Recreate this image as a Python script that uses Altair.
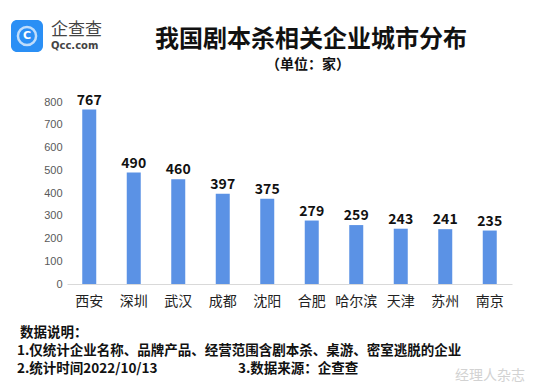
import altair as alt
import pandas as pd

cities = ["西安", "深圳", "武汉", "成都", "沈阳", "合肥", "哈尔滨", "天津", "苏州", "南京"]
counts = [767, 490, 460, 397, 375, 279, 259, 243, 241, 235]
y_ticks = [0, 100, 200, 300, 400, 500, 600, 700, 800]

title_text = "我国剧本杀相关企业城市分布"
subtitle_text = "（单位：家）"
note_head = "数据说明："
note_1 = "1.仅统计企业名称、品牌产品、经营范围含剧本杀、桌游、密室逃脱的企业"
note_2 = "2.统计时间2022/10/13"
note_3 = "3.数据来源：企查查"
logo_cn = "企查查"
logo_en = "Qcc.com"
watermark = "经理人杂志"

FONT = "Noto Sans CJK SC"
df = pd.DataFrame({"city": cities, "count": counts})

x_enc = alt.X("city:N", sort=cities,
              scale=alt.Scale(paddingInner=0, paddingOuter=0),
              axis=alt.Axis(title=None, labelAngle=0, ticks=False, domain=True,
                            domainColor="#d9d9d9", domainWidth=1,
                            labelFont=FONT, labelFontSize=14, labelColor="#222222",
                            labelPadding=10))
y_enc = alt.Y("count:Q", scale=alt.Scale(domain=[0, 800], nice=False),
              axis=alt.Axis(title=None, values=y_ticks, grid=False, domain=False,
                            ticks=False, labelOverlap=False, labelFont="Liberation Sans",
                            labelFontSize=11, labelColor="#595959", labelPadding=5))

bars = alt.Chart(df).mark_bar(size=14, color="#5b92e5").encode(x=x_enc, y=y_enc)
labels = alt.Chart(df).mark_text(baseline="bottom", dy=-2, font=FONT, fontSize=14,
                                 fontWeight="bold", color="#111111").encode(
    x=x_enc, y=y_enc, text="count:Q")


def txt(s, x, y, size, weight="normal", color="#111111", align="left", font=FONT):
    return alt.Chart(pd.DataFrame({"t": [s]})).mark_text(
        align=align, baseline="middle", font=font, fontSize=size,
        fontWeight=weight, color=color).encode(
        text="t:N", x=alt.value(x), y=alt.value(y))


logo_box = alt.Chart(pd.DataFrame({"a": [1]})).mark_rect(
    color="#2a8ff5", cornerRadius=6).encode(
    x=alt.value(-56), x2=alt.value(-24), y=alt.value(-82), y2=alt.value(-50))
logo_ring = alt.Chart(pd.DataFrame({"a": [1]})).mark_point(
    shape="circle", filled=False, color="white", strokeWidth=2.5, size=330).encode(
    x=alt.value(-40), y=alt.value(-66))
logo_c = txt("C", -40, -66, 11, "bold", "white", "center", "DejaVu Sans")

layers = [
    bars, labels,
    txt(title_text, 244, -62, 24, "bold", "#111111", "center"),
    txt(subtitle_text, 241, -37, 14, "bold", "#111111", "center"),
    logo_box, logo_ring, logo_c,
    txt(logo_cn, -16, -72, 17, "normal", "#444444"),
    txt(logo_en, -16, -56, 10, "bold", "#444444", "left", "DejaVu Sans"),
    txt(note_head, -47, 231, 13.5, "bold"),
    txt(note_1, -50, 249, 13.5, "bold"),
    txt(note_2, -50, 267, 13.5, "bold"),
    txt(note_3, 171, 267, 13.5, "bold"),
    txt(watermark, 388, 274, 14, "normal", "#d2d2d2"),
]

chart = alt.layer(*layers).properties(
    width=445, height=182,
    autosize=alt.AutoSizeParams(type="none"),
    padding={"left": 59, "top": 94, "right": 33, "bottom": 99},
).configure_view(stroke=None)

chart.save("out.html", embed_options={"renderer": "svg", "actions": False})
